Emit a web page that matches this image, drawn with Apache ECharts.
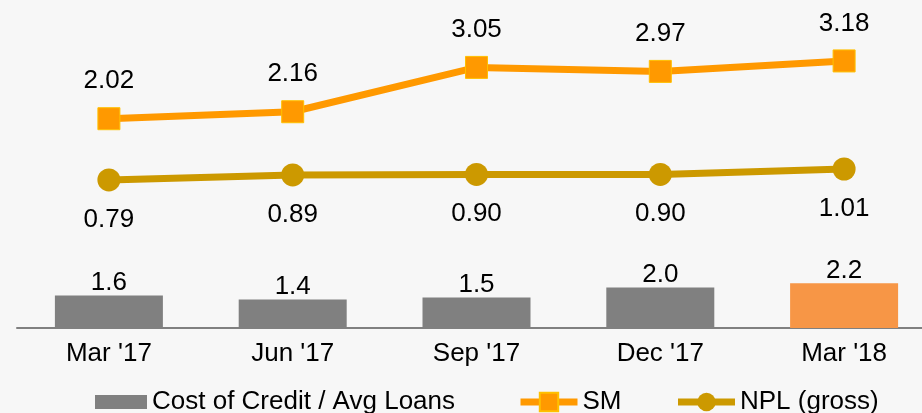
<!DOCTYPE html>
<html><head><meta charset="utf-8">
<script src="https://cdn.jsdelivr.net/npm/echarts@6/dist/echarts.min.js"></script>
<style>html,body{margin:0;padding:0;background:#f7f7f7;overflow:hidden;}#c{width:936px;height:413px;}</style>
</head><body><div id="c"></div>
<script>
const categories = ["Mar '17", "Jun '17", "Sep '17", "Dec '17", "Mar '18"];
const costOfCredit = [1.6, 1.4, 1.5, 2.0, 2.2];
const smValues = [2.02, 2.16, 3.05, 2.97, 3.18];
const nplValues = [0.79, 0.89, 0.90, 0.90, 1.01];

const FONT = 'Liberation Sans, Arial, sans-serif';
const chart = echarts.init(document.getElementById('c'));
chart.setOption({
  backgroundColor: '#f7f7f7',
  animation: false,
  textStyle: { fontFamily: FONT },
  grid: [
    { left: 17, right: 0, top: 226.5, bottom: 85 },
    { left: 17, right: 0, top: 20.1, bottom: 193.7 }
  ],
  xAxis: [
    { type: 'category', gridIndex: 0, data: categories,
      axisLine: { lineStyle: { color: '#808080', width: 2 } },
      axisTick: { show: false },
      axisLabel: { color: '#000', fontSize: 26, fontFamily: FONT, margin: 13 } },
    { type: 'category', gridIndex: 1, data: categories, show: false }
  ],
  yAxis: [
    { type: 'value', gridIndex: 0, min: 0, max: 5, show: false },
    { type: 'value', gridIndex: 1, min: 0, max: 4, show: false }
  ],
  legend: [
    { left: 95, top: 389, padding: 0, itemWidth: 52, itemHeight: 14, itemGap: 55,
      data: [{ name: 'Cost of Credit / Avg Loans', icon: 'rect' }],
      textStyle: { fontSize: 26, color: '#000', fontFamily: FONT } },
    { left: 517, top: 389, padding: 0, itemWidth: 57, itemHeight: 23, itemGap: 53,
      data: ['SM', 'NPL (gross)'],
      lineStyle: { width: 7 },
      textStyle: { fontSize: 26, color: '#000', fontFamily: FONT } }
  ],
  series: [
    { name: 'Cost of Credit / Avg Loans', type: 'bar', xAxisIndex: 0, yAxisIndex: 0,
      data: costOfCredit.map((v, i) => i === costOfCredit.length - 1 ? { value: v, itemStyle: { color: '#f79646' } } : v),
      barWidth: 108,
      itemStyle: { color: '#808080' },
      label: { show: true, position: 'top', distance: 0, color: '#000', fontSize: 26, fontFamily: FONT, formatter: p => p.value.toFixed(1) } },
    { name: 'SM', type: 'line', xAxisIndex: 1, yAxisIndex: 1, data: smValues,
      symbol: 'rect', symbolSize: 22,
      lineStyle: { color: '#ff9900', width: 7 },
      itemStyle: { color: '#ff9900', borderColor: '#ffc000', borderWidth: 1 },
      label: { show: true, position: 'top', distance: 13, color: '#000', fontSize: 26, fontFamily: FONT, formatter: p => p.value.toFixed(2) } },
    { name: 'NPL (gross)', type: 'line', xAxisIndex: 1, yAxisIndex: 1, data: nplValues,
      symbol: 'circle', symbolSize: 23,
      lineStyle: { color: '#cc9900', width: 7 },
      itemStyle: { color: '#cc9900' },
      label: { show: true, position: 'bottom', distance: 15, color: '#000', fontSize: 26, fontFamily: FONT, formatter: p => p.value.toFixed(2) } }
  ]
});
</script></body></html>
